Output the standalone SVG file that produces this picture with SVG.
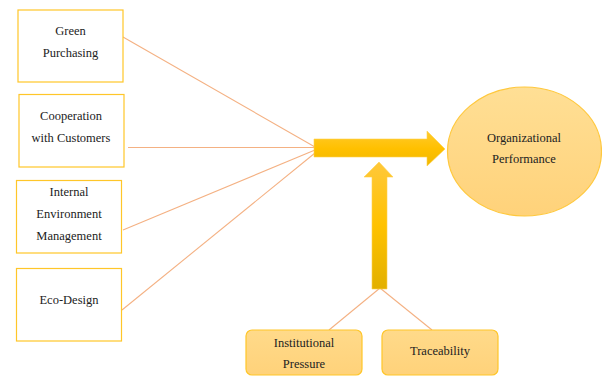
<svg xmlns="http://www.w3.org/2000/svg" width="602" height="376" viewBox="0 0 602 376">
<style>
.box{fill:#ffffff;stroke:#FFC629;stroke-width:1.2}
.rbox{fill:url(#gBox);stroke:#FFC629;stroke-width:1.2}
.t{font-family:'Liberation Serif','DejaVu Serif',serif;font-size:12.5px;fill:#222;text-anchor:middle}
.ln{stroke:#F4B183;stroke-width:1.1;fill:none}
</style>
<defs>
<linearGradient id="gH" x1="0" y1="0" x2="0" y2="1">
<stop offset="0" stop-color="#FFCB2E"/><stop offset="0.5" stop-color="#FFC000"/><stop offset="1" stop-color="#F0B800"/>
</linearGradient>
<linearGradient id="gV" x1="0" y1="0" x2="0" y2="1">
<stop offset="0" stop-color="#FFC83A"/><stop offset="0.5" stop-color="#FFC200"/><stop offset="1" stop-color="#E2B000"/>
</linearGradient>
<linearGradient id="gE" x1="0" y1="0" x2="0" y2="1">
<stop offset="0" stop-color="#FFDF95"/><stop offset="1" stop-color="#FFD27A"/>
</linearGradient>
<linearGradient id="gBox" x1="0" y1="0" x2="0" y2="1">
<stop offset="0" stop-color="#FFDA8A"/><stop offset="1" stop-color="#FFD27A"/>
</linearGradient>
</defs>
<g id="connectors">
<line class="ln" x1="123" y1="37" x2="315" y2="147"/>
<line class="ln" x1="128" y1="147.5" x2="315" y2="147.5"/>
<line class="ln" x1="123" y1="230" x2="315" y2="150"/>
<line class="ln" x1="122" y1="310" x2="315" y2="153"/>
<line class="ln" x1="380" y1="288" x2="329" y2="330"/>
<line class="ln" x1="380" y1="288" x2="432" y2="330"/>
</g>
<g id="arrow-main">
<polygon points="314,139 427,139 427,131 445,149 427,166 427,157 314,157" fill="url(#gH)" stroke="#FFD24D" stroke-width="0.6"/>
</g>
<g id="arrow-moderator">
<polygon points="372,289 372,177 364,177 379,162 393,177 387,177 387,289" fill="url(#gV)" stroke="#FFD24D" stroke-width="0.6"/>
</g>
<g id="green-purchasing">
<rect class="box" x="18" y="10" width="105" height="72"/>
<text class="t" x="70.5" y="35">Green</text>
<text class="t" x="70.5" y="57">Purchasing</text>
</g>
<g id="cooperation">
<rect class="box" x="19" y="94.5" width="105" height="72.5"/>
<text class="t" x="71" y="120">Cooperation</text>
<text class="t" x="71" y="142">with Customers</text>
</g>
<g id="internal-env">
<rect class="box" x="16.5" y="180.5" width="105" height="72.5"/>
<text class="t" x="69" y="196">Internal</text>
<text class="t" x="69" y="218">Environment</text>
<text class="t" x="69" y="240">Management</text>
</g>
<g id="eco-design">
<rect class="box" x="16.5" y="268.5" width="105" height="72.5"/>
<text class="t" x="69" y="304">Eco-Design</text>
</g>
<g id="org-performance">
<ellipse cx="524.5" cy="151.5" rx="77" ry="64.5" fill="url(#gE)" stroke="#FFC83D" stroke-width="1.2"/>
<text class="t" x="524" y="142">Organizational</text>
<text class="t" x="524" y="163">Performance</text>
</g>
<g id="institutional">
<rect class="rbox" x="246" y="330" width="116" height="45" rx="6"/>
<text class="t" x="304" y="347">Institutional</text>
<text class="t" x="304" y="368">Pressure</text>
</g>
<g id="traceability">
<rect class="rbox" x="382" y="330" width="116" height="45" rx="6"/>
<text class="t" x="440" y="355">Traceability</text>
</g>
</svg>
